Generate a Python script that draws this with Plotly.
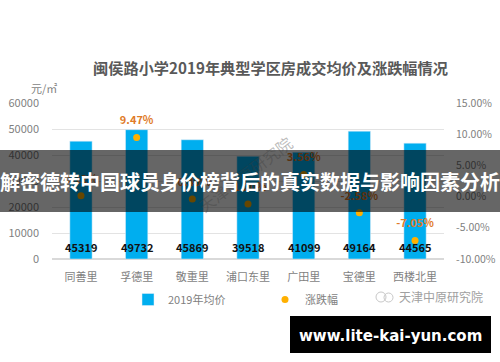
import plotly.graph_objects as go

categories = ["同善里", "孚德里", "敬重里", "浦口东里", "广田里", "宝德里", "西楼北里"]
prices = [45319, 49732, 45869, 39518, 41099, 49164, 44565]
changes = [0.12, 9.47, -0.4, -1.2, 3.56, -2.58, -7.05]
change_labels = ["0.12%", "9.47%", "-0.40%", "-1.20%", "3.56%", "-2.58%", "-7.05%"]
price_ticks = [0, 10000, 20000, 30000, 40000, 50000, 60000]
pct_ticks = [-10, -5, 0, 5, 10, 15]
pct_tick_labels = ["-10.00%", "-5.00%", "0.00%", "5.00%", "10.00%", "15.00%"]

title = "闽侯路小学2019年典型学区房成交均价及涨跌幅情况"
banner = "解密德转中国球员身价榜背后的真实数据与影响因素分析"
site = "www.lite-kai-yun.com"
watermark = "天津中原研究院"
FONT = "Noto Sans CJK SC"
GREY = "#7f7f7f"

L, T, W, H = 52, 103, 392, 156
def px(x): return (x - L) / W
def py(y): return (T + H - y) / H

fig = go.Figure()
fig.add_trace(go.Bar(
    x=categories, y=prices, name="2019年均价", marker_color="#00AEEF", width=0.4,
))
fig.add_trace(go.Scatter(
    x=categories, y=changes, name="涨跌幅", mode="markers", yaxis="y2",
    marker=dict(color="#FFB000", size=7),
))
fig.add_trace(go.Scatter(
    x=categories, y=changes, mode="markers+text", yaxis="y2", showlegend=False,
    hoverinfo="skip", marker=dict(size=15, opacity=0),
    text=change_labels, textposition="top center",
    textfont=dict(color="#E07B28", size=11, family=FONT, weight="bold"),
))

annotations = [
    dict(x=c, y=0, yref="y", yshift=12, text=f"<b>{p}</b>", showarrow=False,
         font=dict(size=11, color="#111111", family=FONT))
    for c, p in zip(categories, prices)
]
free_texts = [
    dict(text="元/㎡", x=px(44), y=py(88), font=dict(size=11, color=GREY)),
    dict(text=watermark, x=px(245), y=py(174), textangle=-37,
         font=dict(size=16, color="rgba(60,60,60,0.35)", family=FONT)),
    dict(text=banner, x=px(250), y=py(181),
         font=dict(size=20, color="white", family=FONT, weight="bold")),
    dict(text=site, x=px(390), y=py(336),
         font=dict(size=15, color="white", family="DejaVu Sans", weight="bold")),
    dict(text=watermark, x=px(441), y=py(296), font=dict(size=12, color="#a0a0a0", family=FONT)),
]
annotations += [
    dict(xref="paper", yref="paper", xanchor="center", yanchor="middle", showarrow=False, **t)
    for t in free_texts
]

fig.update_layout(
    width=500, height=362, autosize=False, paper_bgcolor="white", plot_bgcolor="white",
    margin=dict(l=L, r=500 - L - W, t=T, b=362 - T - H, autoexpand=False), bargap=0.6,
    showlegend=True,
    font=dict(family=FONT, color=GREY, size=11),
    xaxis=dict(showgrid=False, showline=False, ticks="", ticklabelstandoff=10, automargin=False,
               tickfont=dict(size=11, color=GREY)),
    yaxis=dict(range=[0, 60000], tickvals=price_ticks, tickformat="d", gridcolor="#E3E3E3",
               zeroline=True, zerolinecolor="#D9D9D9", ticks="", ticklabelstandoff=12,
               automargin=False, tickfont=dict(size=11, color=GREY)),
    yaxis2=dict(overlaying="y", side="right", range=[-10, 15], tickvals=pct_ticks,
                ticktext=pct_tick_labels, showgrid=False, zeroline=False, ticks="",
                ticklabelstandoff=11, automargin=False, tickfont=dict(size=10.5, color=GREY)),
    legend=dict(orientation="h", x=px(128), xanchor="left", y=py(285), yanchor="top",
                font=dict(size=11, color=GREY), itemwidth=30, entrywidth=92,
                bgcolor="rgba(0,0,0,0)"),
    title=dict(text=title, x=270.5 / 500, xanchor="center", y=1 - 69 / 362, yanchor="middle",
               font=dict(size=15.2, color="#595959", family=FONT, weight="bold")),
    shapes=[
        dict(type="rect", xref="paper", yref="paper", x0=px(0), x1=px(500), y0=py(212), y1=py(150),
             fillcolor="rgba(0,0,0,0.6)", line_width=0, layer="above"),
        dict(type="rect", xref="paper", yref="paper", x0=px(290), x1=px(491), y0=py(353), y1=py(316),
             fillcolor="black", line_width=0, layer="above"),
        dict(type="circle", xref="paper", yref="paper", x0=px(376), x1=px(386), y0=py(302), y1=py(292),
             line=dict(color="#c8c8c8", width=1), layer="above"),
        dict(type="circle", xref="paper", yref="paper", x0=px(384), x1=px(393), y0=py(302), y1=py(293),
             line=dict(color="#c8c8c8", width=1), layer="above"),
    ],
    annotations=annotations,
)
fig.write_html("out.html", config=dict(displayModeBar=False),
               post_script="document.body.style.margin='0';document.body.style.overflow='hidden';")
